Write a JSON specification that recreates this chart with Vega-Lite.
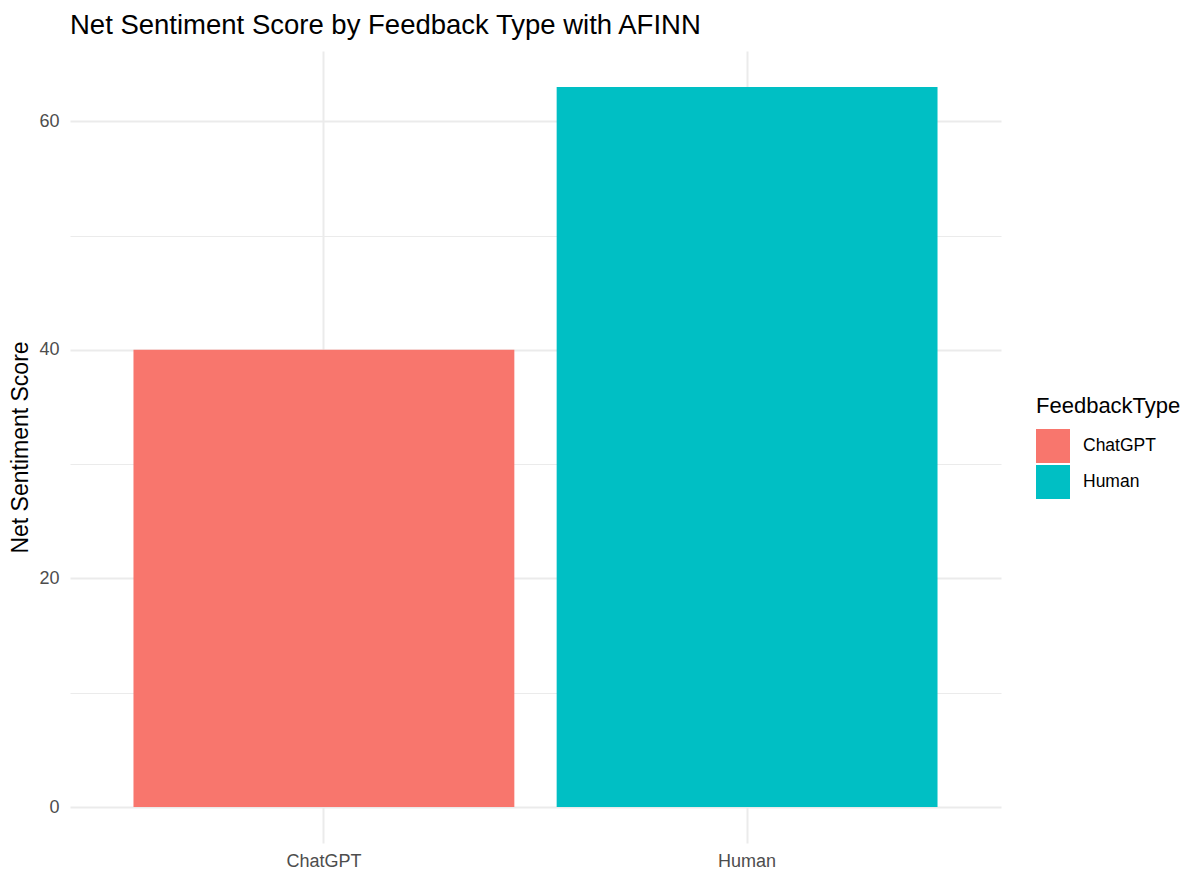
{
  "$schema": "https://vega.github.io/schema/vega-lite/v6.json",
  "autosize": "none",
  "padding": {"left": 70, "top": 51, "right": 199, "bottom": 38},
  "width": 931,
  "height": 792,
  "background": "white",
  "title": {
    "text": "Net Sentiment Score by Feedback Type with AFINN",
    "anchor": "start",
    "frame": "group",
    "font": "Liberation Sans",
    "fontSize": 27.5,
    "fontWeight": "normal",
    "color": "#000000",
    "offset": 12
  },
  "data": {
    "values": [
      {"FeedbackType": "ChatGPT", "NetSentiment": 40},
      {"FeedbackType": "Human", "NetSentiment": 63}
    ]
  },
  "config": {
    "view": {"stroke": null},
    "font": "Liberation Sans"
  },
  "mark": {"type": "bar"},
  "encoding": {
    "x": {
      "field": "FeedbackType",
      "type": "nominal",
      "scale": {"paddingInner": 0.1, "paddingOuter": 0.15},
      "axis": {
        "title": null,
        "labelAngle": 0,
        "bandPosition": 0.5,
        "grid": true,
        "gridColor": "#EBEBEB",
        "gridWidth": 2,
        "ticks": false,
        "domain": false,
        "labelFont": "Liberation Sans",
        "labelFontSize": 18,
        "labelColor": "#4D4D4D",
        "labelPadding": 9
      }
    },
    "y": {
      "field": "NetSentiment",
      "type": "quantitative",
      "scale": {"domain": [-3.15, 66.15], "nice": false, "zero": false},
      "axis": {
        "title": "Net Sentiment Score",
        "titleFont": "Liberation Sans",
        "titleFontSize": 23,
        "titleFontWeight": "normal",
        "titleColor": "#000000",
        "titlePadding": 6,
        "values": [0, 10, 20, 30, 40, 50, 60],
        "labelExpr": "datum.value % 20 === 0 ? datum.label : ''",
        "grid": true,
        "gridColor": "#EBEBEB",
        "gridWidth": {"condition": {"test": "datum.value % 20 === 0", "value": 2}, "value": 1.2},
        "ticks": false,
        "domain": false,
        "labelFont": "Liberation Sans",
        "labelFontSize": 18,
        "labelColor": "#4D4D4D",
        "labelPadding": 11
      }
    },
    "color": {
      "field": "FeedbackType",
      "type": "nominal",
      "scale": {"domain": ["ChatGPT", "Human"], "range": ["#F8766D", "#00BFC4"]},
      "legend": {
        "title": "FeedbackType",
        "orient": "none",
        "legendX": 966,
        "legendY": 345,
        "titleFont": "Liberation Sans",
        "titleFontSize": 22,
        "titleFontWeight": "normal",
        "titleColor": "#000000",
        "titlePadding": 11,
        "symbolType": "square",
        "symbolSize": 1156,
        "symbolStrokeWidth": 0,
        "symbolOpacity": 1,
        "labelFont": "Liberation Sans",
        "labelFontSize": 17.5,
        "labelColor": "#000000",
        "labelOffset": 13,
        "rowPadding": 2
      }
    }
  }
}
